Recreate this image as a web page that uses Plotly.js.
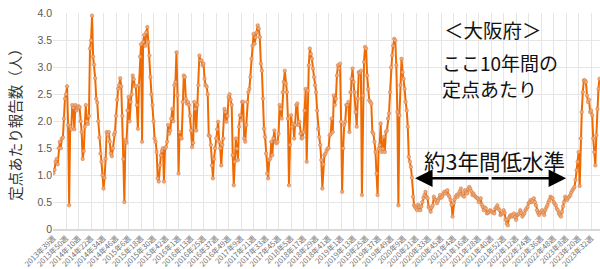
<!DOCTYPE html>
<html><head><meta charset="utf-8">
<script src="https://cdn.plot.ly/plotly-3.0.1.min.js"></script>
<style>html,body{margin:0;padding:0;overflow:hidden;background:#fff}#chart{width:600px;height:269px}</style>
</head><body><div id="chart"></div>
<script>
// Weekly reports per sentinel site, Osaka, from 2013 week 39 (one value per week)
const reports = [
1.04,1.1,1.25,1.3,1.2,1.5,1.62,1.5,1.68,1.7,
2.05,2.42,2.5,2.65,1.93,0.44,1.9,1.85,2.3,2.25,
1.85,2.3,2.2,2.25,2.28,2.26,2.0,1.8,1.3,1.45,
1.9,2.3,2.0,1.95,2.1,3.35,3.5,3.96,3.2,3.05,
2.8,2.42,2.35,2.0,1.7,1.4,1.25,1.0,0.75,0.95,
1.3,1.8,1.75,1.8,1.62,1.4,1.35,1.5,1.75,1.8,
2.1,2.4,2.6,2.67,2.8,2.65,2.1,1.3,0.5,1.65,
1.6,2.2,2.45,2.0,2.36,2.5,2.85,2.78,2.65,2.65,
2.3,1.86,2.67,3.2,3.43,1.62,3.47,3.6,3.4,3.65,
3.75,3.47,3.22,2.82,2.5,2.3,2.0,1.68,1.62,1.43,
0.94,0.88,1.18,1.37,1.45,1.5,0.88,1.5,1.52,1.62,
1.93,1.77,1.83,2.05,2.23,2.0,2.67,2.73,3.28,2.48,
1.03,1.8,1.7,1.68,2.36,2.85,2.82,2.42,2.33,2.36,
2.3,2.1,1.83,1.52,1.6,2.36,2.23,1.83,2.3,2.67,
3.22,3.13,3.13,3.04,3.07,2.79,2.67,2.64,2.5,1.74,
1.72,1.56,1.18,0.94,1.3,1.5,1.68,1.85,1.99,1.62,
1.5,1.18,1.56,1.68,2.23,2.17,1.99,2.1,2.45,2.5,
2.4,2.3,1.37,0.81,1.25,1.68,1.49,1.28,1.9,2.11,
2.02,2.36,2.36,1.68,1.62,1.93,2.36,2.54,2.6,2.82,
3.16,3.4,3.62,3.44,3.56,3.65,3.78,3.72,3.56,3.07,
2.94,2.42,1.86,1.71,1.4,1.03,0.94,1.28,1.31,1.62,
1.37,1.68,1.83,1.62,1.59,1.62,1.77,2.3,2.23,2.05,
2.54,2.73,2.94,2.7,2.54,2.05,0.81,1.56,2.11,1.9,
1.95,1.68,1.93,2.3,2.33,1.93,1.99,1.77,1.68,1.7,
1.8,2.2,2.6,1.25,2.57,3.04,3.35,3.25,3.16,2.98,
2.82,2.67,2.54,2.2,1.86,1.71,1.56,1.28,0.75,1.2,
1.37,1.4,1.45,1.49,1.5,1.74,1.76,2.05,1.8,2.48,
2.3,2.42,2.85,3.04,2.98,3.07,1.99,0.69,1.5,1.93,
1.99,2.3,2.3,2.36,1.8,2.54,2.79,2.98,2.73,2.54,
2.17,1.9,2.42,2.91,2.9,2.94,0.63,2.48,3.1,3.38,
3.35,2.85,2.6,2.39,2.36,2.33,1.8,1.77,1.62,1.43,
1.03,0.63,1.49,1.56,1.96,1.43,1.49,1.71,1.43,1.8,
1.83,2.05,2.15,2.54,3.0,3.22,3.4,3.53,3.5,3.04,
2.17,0.44,2.11,2.67,3.16,2.91,2.79,2.6,2.36,2.2,
1.9,1.34,1.25,1.15,0.95,0.6,0.44,0.41,0.38,0.35,
0.45,0.41,0.35,0.42,0.5,0.58,0.63,0.69,0.6,0.57,
0.41,0.38,0.32,0.4,0.44,0.6,0.55,0.54,0.48,0.52,
0.57,0.63,0.58,0.6,0.65,0.69,0.66,0.7,0.72,0.63,
0.6,0.54,0.45,0.23,0.48,0.55,0.6,0.63,0.6,0.66,
0.7,0.75,0.63,0.66,0.6,0.72,0.68,0.66,0.74,0.78,
0.75,0.7,0.63,0.66,0.62,0.6,0.58,0.57,0.5,0.55,
0.57,0.45,0.41,0.35,0.4,0.38,0.29,0.3,0.32,0.35,
0.33,0.32,0.3,0.29,0.38,0.4,0.44,0.38,0.35,0.26,
0.28,0.29,0.35,0.3,0.17,0.1,0.07,0.2,0.24,0.26,
0.23,0.25,0.29,0.22,0.17,0.26,0.27,0.29,0.35,0.3,
0.23,0.27,0.29,0.35,0.38,0.41,0.48,0.5,0.54,0.5,
0.52,0.57,0.5,0.44,0.35,0.3,0.26,0.3,0.32,0.35,
0.3,0.26,0.35,0.4,0.44,0.5,0.54,0.6,0.58,0.57,
0.5,0.47,0.44,0.38,0.35,0.29,0.26,0.23,0.32,0.42,
0.5,0.6,0.57,0.54,0.58,0.6,0.63,0.68,0.72,0.75,
0.78,0.91,1.09,1.25,1.43,0.8,1.68,2.17,2.54,2.76,
2.76,2.73,2.48,2.36,2.4,2.17,2.2,2.11,1.68,1.43,
1.18,1.74,2.23,2.6,2.79
];
// Tick labels, one every 12 weeks
const weekTickLabels = [
'2013年39週','2013年50週','2014年10週','2014年22週','2014年34週','2014年46週',
'2015年6週','2015年18週','2015年30週','2015年42週','2016年1週','2016年13週',
'2016年25週','2016年37週','2016年49週','2017年9週','2017年21週','2017年33週',
'2017年45週','2018年5週','2018年17週','2018年29週','2018年41週','2019年1週',
'2019年13週','2019年25週','2019年37週','2019年49週','2020年9週','2020年21週',
'2020年33週','2020年45週','2021年4週','2021年16週','2021年28週','2021年40週',
'2021年52週','2022年12週','2022年24週','2022年36週','2022年48週','2023年8週',
'2023年20週','2023年32週'
];
const yTickVals = [0,0.5,1,1.5,2,2.5,3,3.5,4];
const yTickText = ['0','0.5','1.0','1.5','2.0','2.5','3.0','3.5','4.0'];

const xIdx = reports.map((_, i) => i);
const tickStep = 12;
const tickVals = weekTickLabels.map((_, i) => i * tickStep);

const JP = '"Noto Sans CJK JP", "Noto Sans", sans-serif';

const trace = {
  x: xIdx, y: reports, type: 'scatter', mode: 'lines+markers',
  line: {color: '#f06a00', width: 2},
  marker: {size: 3.5, color: '#f5a872', line: {color: '#c87a48', width: 0.5}},
  hoverinfo: 'skip'
};

const arrowY = 0.94, arrowL = 347, arrowR = 492, arrowMid = 419;

const layout = {
  width: 600, height: 269,
  margin: {l: 53, r: 0, t: 13, b: 40},
  paper_bgcolor: '#fff', plot_bgcolor: '#fff',
  showlegend: false,
  font: {family: JP, color: '#595959'},
  xaxis: {
    range: [-0.5, 524.5], tickmode: 'array', tickvals: tickVals, ticktext: weekTickLabels,
    tickangle: -45, tickfont: {size: 7.5, color: '#707070', family: JP},
    showgrid: true, gridcolor: '#e6e6e6', gridwidth: 1, zeroline: false,
    showline: true, linecolor: '#d9d9d9', linewidth: 2, ticks: '', fixedrange: true
  },
  yaxis: {
    range: [0, 4.01], tickmode: 'array', tickvals: yTickVals, ticktext: yTickText,
    tickfont: {size: 10.5, color: '#595959', family: '"Liberation Sans", Arial, sans-serif'},
    showgrid: true, gridcolor: '#e6e6e6', zeroline: false, showline: false, ticks: '',
    title: {text: '定点あたり報告数（人）', font: {size: 14.5, color: '#333333', family: JP}, standoff: 12},
    automargin: false, fixedrange: true
  },
  annotations: [
    {xref: 'paper', yref: 'paper', x: (493 - 53) / 547, y: (229 - 29) / 216, xanchor: 'center', yanchor: 'middle',
     text: '＜大阪府＞', showarrow: false, font: {size: 19.5, color: '#111', family: JP}},
    {xref: 'paper', yref: 'paper', x: (440 - 53) / 547, y: (229 - 62) / 216, xanchor: 'left', yanchor: 'middle',
     text: 'ここ10年間の', showarrow: false, font: {size: 19, color: '#111', family: JP}},
    {xref: 'paper', yref: 'paper', x: (440 - 53) / 547, y: (229 - 88) / 216, xanchor: 'left', yanchor: 'middle',
     text: '定点あたり', showarrow: false, font: {size: 19, color: '#111', family: JP}},
    {xref: 'paper', yref: 'paper', x: (494 - 53) / 547, y: (229 - 160) / 216, xanchor: 'center', yanchor: 'middle',
     text: '約3年間低水準', showarrow: false, font: {size: 21.5, color: '#111', family: JP}},
    {xref: 'x', yref: 'y', x: arrowL, y: arrowY, ax: arrowMid, ay: arrowY, axref: 'x', ayref: 'y',
     text: '', showarrow: true, arrowhead: 2, arrowsize: 1.4, arrowwidth: 2.5, arrowcolor: '#000'},
    {xref: 'x', yref: 'y', x: arrowR, y: arrowY, ax: arrowMid, ay: arrowY, axref: 'x', ayref: 'y',
     text: '', showarrow: true, arrowhead: 2, arrowsize: 1.4, arrowwidth: 2.5, arrowcolor: '#000'}
  ]
};

Plotly.newPlot('chart', [trace], layout, {staticPlot: true, displayModeBar: false});
</script></body></html>
